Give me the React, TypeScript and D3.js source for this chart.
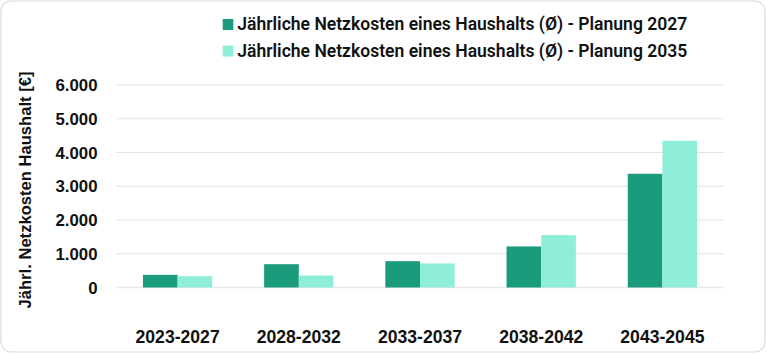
import React from "react";
import * as d3 from "d3";

const categories = ["2023-2027", "2028-2032", "2033-2037", "2038-2042", "2043-2045"];
const series2027 = [375, 690, 780, 1217, 3370];
const series2035 = [335, 356, 712, 1552, 4350];
const seriesNames = [
  "Jährliche Netzkosten eines Haushalts (Ø) - Planung 2027",
  "Jährliche Netzkosten eines Haushalts (Ø) - Planung 2035",
];
const colors = ["#1a9c7c", "#8eeed7"];
const yTicks = [0, 1000, 2000, 3000, 4000, 5000, 6000];
const yLabel = "Jährl. Netzkosten Haushalt [€]";

const W = 767;
const H = 354;

export default function App() {
  const x0 = d3.scaleBand<string>().domain(categories).range([117, 723]).paddingInner(0.428).paddingOuter(0.214);
  const x1 = d3.scaleBand<number>().domain([0, 1]).range([0, x0.bandwidth()]);
  const y = d3.scaleLinear().domain([0, 6000]).range([287.5, 85]);
  const fmt = (v: number) => d3.format(",")(v).replace(/,/g, ".");
  const all = [series2027, series2035];
  return (
    <svg width={W} height={H} style={{ position: "absolute", left: 0, top: 0, fontFamily: "Liberation Sans, Arial, sans-serif" }}>
      <rect x={1} y={1} width={W - 3} height={H - 3} rx={10} fill="#fff" stroke="#dcdcdc" strokeWidth={1.2} />
      {yTicks.map((t) => (
        <g key={t}>
          <line x1={117} x2={723} y1={y(t)} y2={y(t)} stroke={t === 0 ? "#e8e8e8" : "#e2e2e2"} strokeWidth={t === 0 ? 1.6 : 1} />
          <text x={97.5} y={y(t)} dy="0.36em" textAnchor="end" fontSize={16.8} fontWeight="bold" fill="#111">
            {fmt(t)}
          </text>
        </g>
      ))}
      {categories.map((c, i) => (
        <g key={c} transform={`translate(${x0(c)},0)`}>
          {all.map((s, k) => (
            <rect key={k} x={x1(k)} width={x1.bandwidth()} y={y(s[i])} height={y(0) - y(s[i])} fill={colors[k]} />
          ))}
          <text x={x0.bandwidth() / 2} y={342.5} textAnchor="middle" fontSize={17.6} fontWeight="bold" fill="#111">
            {c}
          </text>
        </g>
      ))}
      <text transform={`translate(31,190) rotate(-90)`} textAnchor="middle" fontSize={16.6} fontWeight="bold" fill="#111">
        {yLabel}
      </text>
      {seriesNames.map((n, k) => (
        <g key={n} transform={`translate(222.7,${19 + k * 26.5})`}>
          <rect x={0} y={0} width={10.6} height={11} fill={colors[k]} />
          <text x={14.6} y={11} fontSize={17.5} fontWeight={600} fill="#111" textLength={450} lengthAdjust="spacingAndGlyphs" style={{ fontFamily: "Roboto, 'Noto Sans', sans-serif" }}>
            {n}
          </text>
        </g>
      ))}
    </svg>
  );
}
